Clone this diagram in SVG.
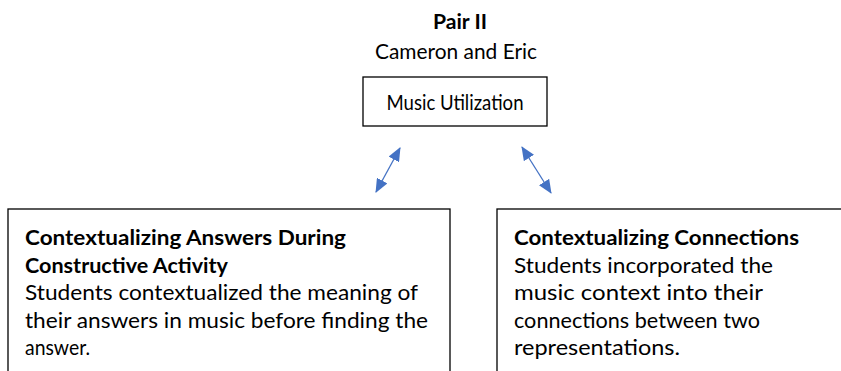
<svg xmlns="http://www.w3.org/2000/svg" width="841" height="371" viewBox="0 0 841 371">
<style>
text{font-family:Lato,"Open Sans","Liberation Sans",sans-serif;font-size:21px;fill:#000}
.b{font-weight:bold}
.c{text-anchor:middle}
.box{fill:#fff;stroke:#000;stroke-width:1.3}
.conn{stroke:#4472C4;stroke-width:1.3;fill:none;marker-start:url(#ah);marker-end:url(#ah)}
</style>
<defs>
<marker id="ah" viewBox="0 0 14 12" refX="13" refY="6" markerWidth="14" markerHeight="12" markerUnits="userSpaceOnUse" orient="auto-start-reverse">
<path d="M0,0 L14,6 L0,12 Z" fill="#4472C4"/>
</marker>
</defs>
<rect width="841" height="371" fill="#fff"/>
<g id="title">
<text class="b c" x="460" y="29" textLength="54" lengthAdjust="spacingAndGlyphs">Pair II</text>
<text class="c" x="456" y="59" textLength="162" lengthAdjust="spacingAndGlyphs">Cameron and Eric</text>
</g>
<g id="music-utilization">
<rect class="box" x="363" y="77" width="184" height="49"/>
<text class="c" x="455" y="110" textLength="137" lengthAdjust="spacingAndGlyphs">Music Utilization</text>
</g>
<g id="contextualizing-answers">
<rect class="box" x="8" y="209" width="442" height="200"/>
<text class="b" x="25" y="245" textLength="321" lengthAdjust="spacingAndGlyphs">Contextualizing Answers During</text>
<text class="b" x="25" y="272.5" textLength="203" lengthAdjust="spacingAndGlyphs">Constructive Activity</text>
<text x="25" y="300" textLength="393" lengthAdjust="spacingAndGlyphs">Students contextualized the meaning of</text>
<text x="25" y="327.5" textLength="403" lengthAdjust="spacingAndGlyphs">their answers in music before finding the</text>
<text x="25" y="355" textLength="65" lengthAdjust="spacingAndGlyphs">answer.</text>
</g>
<g id="contextualizing-connections">
<rect class="box" x="497" y="209" width="400" height="200"/>
<text class="b" x="514" y="245" textLength="285" lengthAdjust="spacingAndGlyphs">Contextualizing Connections</text>
<text x="514" y="272.5" textLength="259" lengthAdjust="spacingAndGlyphs">Students incorporated the</text>
<text x="514" y="300" textLength="249" lengthAdjust="spacingAndGlyphs">music context into their</text>
<text x="514" y="327.5" textLength="246" lengthAdjust="spacingAndGlyphs">connections between two</text>
<text x="514" y="355" textLength="166" lengthAdjust="spacingAndGlyphs">representations.</text>
</g>
<g id="connectors">
<line class="conn" x1="400" y1="148" x2="376" y2="192"/>
<line class="conn" x1="522" y1="147" x2="551" y2="193"/>
</g>
</svg>
